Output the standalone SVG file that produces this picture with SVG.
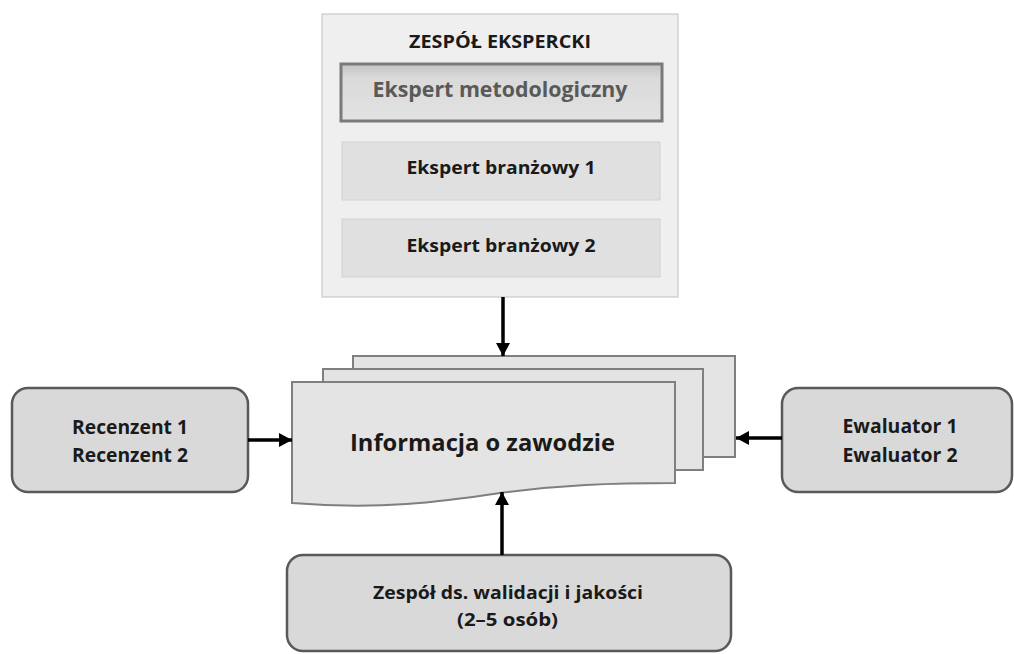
<svg xmlns="http://www.w3.org/2000/svg" width="1014" height="654" viewBox="0 0 1014 654">
<style>
.t{font-family:"Open Sans","Liberation Sans",sans-serif;font-weight:700;fill:#1a1a1a;text-anchor:middle}
.rb{fill:#d9d9d9;stroke:#595959;stroke-width:2.5}
.doc{fill:#e4e4e4;stroke:#7f7f7f;stroke-width:2}
.sub{fill:#e0e0e0;stroke:#d2d2d2;stroke-width:1}
.conn{stroke:#000;stroke-width:3.5;fill:none;marker-end:url(#ah)}
</style>
<defs>
<marker id="ah" markerUnits="userSpaceOnUse" markerWidth="14" markerHeight="14" refX="13" refY="7" orient="auto">
<path d="M0,0 L13,7 L0,14 Z" fill="#000"/>
</marker>
<linearGradient id="mg" x1="0" y1="0" x2="0" y2="1">
<stop offset="0" stop-color="#c4c4c4"/>
<stop offset="0.25" stop-color="#dadada"/>
<stop offset="1" stop-color="#e2e2e2"/>
</linearGradient>
</defs>

<g id="zespol-ekspercki">
<rect x="322" y="14" width="356" height="283" fill="#efefef" stroke="#c8c8c8" stroke-width="1.2"/>
<text class="t" x="500" y="48" font-size="17" textLength="182" lengthAdjust="spacingAndGlyphs">ZESPÓŁ EKSPERCKI</text>
</g>
<g id="ekspert-metodologiczny">
<rect x="341" y="64" width="321" height="57" fill="url(#mg)" stroke="#7a7a7a" stroke-width="3"/>
<text class="t" x="500" y="97" font-size="21" fill="#595959" style="fill:#595959" textLength="255" lengthAdjust="spacingAndGlyphs">Ekspert metodologiczny</text>
</g>
<g id="ekspert-branzowy-1">
<rect class="sub" x="342" y="142" width="318" height="58"/>
<text class="t" x="501" y="174" font-size="18.5" textLength="189" lengthAdjust="spacingAndGlyphs">Ekspert branżowy 1</text>
</g>
<g id="ekspert-branzowy-2">
<rect class="sub" x="342" y="219" width="318" height="58"/>
<text class="t" x="501" y="252" font-size="18.5" textLength="189" lengthAdjust="spacingAndGlyphs">Ekspert branżowy 2</text>
</g>

<g id="informacja-o-zawodzie">
<rect class="doc" x="353" y="356" width="382" height="101"/>
<rect class="doc" x="323" y="369" width="380" height="101"/>
<path class="doc" d="M292,382 H675 V483 C610,483 560,485 500,493 C440,502 380,510 292,503 Z"/>
<text class="t" x="482.5" y="451" font-size="24" textLength="265" lengthAdjust="spacingAndGlyphs">Informacja o zawodzie</text>
</g>

<g id="recenzenci">
<rect class="rb" x="12" y="388" width="236" height="104" rx="16"/>
<text class="t" x="130" y="434" font-size="19" textLength="116" lengthAdjust="spacingAndGlyphs">Recenzent 1</text>
<text class="t" x="130" y="462" font-size="19" textLength="116" lengthAdjust="spacingAndGlyphs">Recenzent 2</text>
</g>

<g id="ewaluatorzy">
<rect class="rb" x="782" y="388" width="230" height="104" rx="16"/>
<text class="t" x="900" y="433" font-size="19" textLength="115" lengthAdjust="spacingAndGlyphs">Ewaluator 1</text>
<text class="t" x="900" y="462" font-size="19" textLength="115" lengthAdjust="spacingAndGlyphs">Ewaluator 2</text>
</g>

<g id="zespol-walidacji">
<rect class="rb" x="287" y="555" width="444" height="96" rx="16"/>
<text class="t" x="508" y="599" font-size="18.5" textLength="270" lengthAdjust="spacingAndGlyphs">Zespół ds. walidacji i jakości</text>
<text class="t" x="507.5" y="626" font-size="18.5" textLength="101" lengthAdjust="spacingAndGlyphs">(2–5 osób)</text>
</g>

<g id="connectors">
<line class="conn" x1="503" y1="297" x2="503" y2="356"/>
<line class="conn" x1="248" y1="440" x2="292" y2="440"/>
<line class="conn" x1="782" y1="438" x2="736" y2="438"/>
<line class="conn" x1="502" y1="555" x2="502" y2="492"/>
</g>
</svg>
